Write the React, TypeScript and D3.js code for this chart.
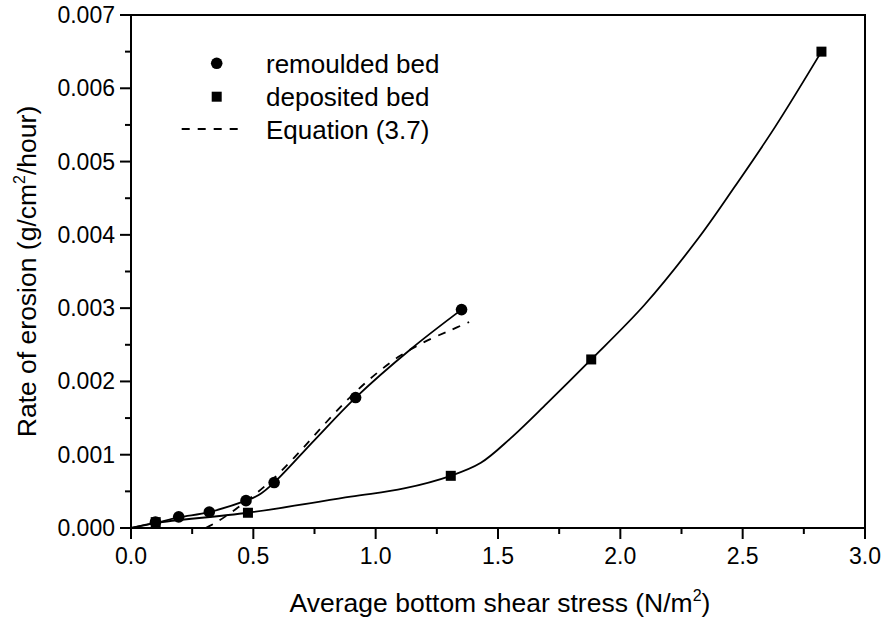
import React from "react";
import * as d3 from "d3";

// measured points
const remouldedX = [0.10, 0.195, 0.32, 0.47, 0.585, 0.918, 1.351];
const remouldedY = [0.00008, 0.000152, 0.000218, 0.000373, 0.00062, 0.00178, 0.00298];
const depositedX = [0.101, 0.478, 1.307, 1.881, 2.822];
const depositedY = [0.00008, 0.000208, 0.000712, 0.0023, 0.0065];

// fitted curves (traced)
const remouldedFitX = [0, 0.1, 0.195, 0.32, 0.47, 0.522, 0.585, 0.75, 0.918, 1.143, 1.351];
const remouldedFitY = [0, 0.00007, 0.000145, 0.000218, 0.000373, 0.00045, 0.00062, 0.0012, 0.00178, 0.00244, 0.00298];
const depositedFitX = [0, 0.101, 0.478, 0.898, 1.116, 1.307, 1.43, 1.55, 1.7, 1.881, 2.1, 2.318, 2.468, 2.632, 2.822];
const depositedFitY = [0, 0.00007, 0.000208, 0.000427, 0.00054, 0.000712, 0.00089, 0.00122, 0.0017, 0.0023, 0.00305, 0.00395, 0.00466, 0.00547, 0.0065];
const equationX = [0.305, 0.35, 0.4, 0.45, 0.5, 0.55, 0.6, 0.7, 0.8, 0.9, 1.0, 1.1, 1.2, 1.3, 1.382];
const equationY = [0, 0.00008, 0.00019, 0.00031, 0.00044, 0.00058, 0.00073, 0.00108, 0.00145, 0.0018, 0.0021, 0.00235, 0.00254, 0.00269, 0.00281];

const xTicks = [0, 0.5, 1.0, 1.5, 2.0, 2.5, 3.0];
const xMinor = [0.25, 0.75, 1.25, 1.75, 2.25, 2.75];
const yTicks = [0, 0.001, 0.002, 0.003, 0.004, 0.005, 0.006, 0.007];
const yMinor = [0.0005, 0.0015, 0.0025, 0.0035, 0.0045, 0.0055, 0.0065];

const legendLabels = ["remoulded bed", "deposited bed", "Equation (3.7)"];

const W = 884, H = 624;
const L = 131, R = 865, T = 15, B = 528;
const FONT = "'Liberation Sans', Arial, Helvetica, sans-serif";

export default function App() {
  const x = d3.scaleLinear().domain([0, 3]).range([L, R]);
  const y = d3.scaleLinear().domain([0, 0.007]).range([B, T]);
  const line = (xs: number[], ys: number[]) =>
    d3.line<number>().x((_, i) => x(xs[i])).y((_, i) => y(ys[i])).curve(d3.curveCatmullRom.alpha(0.5))(xs) || "";

  return (
    <svg width={W} height={H} style={{ position: "absolute", left: 0, top: 0, background: "#fff" }} fontFamily={FONT}>
      <rect x={0} y={0} width={W} height={H} fill="#fff" />
      {/* curves */}
      <path d={line(remouldedFitX, remouldedFitY)} fill="none" stroke="#000" strokeWidth={1.8} />
      <path d={line(depositedFitX, depositedFitY)} fill="none" stroke="#000" strokeWidth={1.8} />
      <path d={line(equationX, equationY)} fill="none" stroke="#000" strokeWidth={1.8} strokeDasharray="8,8" />
      {/* markers */}
      {remouldedX.map((v, i) => (
        <circle key={"c" + i} cx={x(v)} cy={y(remouldedY[i])} r={5.8} fill="#000" />
      ))}
      {depositedX.map((v, i) => (
        <rect key={"s" + i} x={x(v) - 5} y={y(depositedY[i]) - 5} width={10} height={10} fill="#000" />
      ))}
      {/* frame */}
      <rect x={L} y={T} width={R - L} height={B - T} fill="none" stroke="#000" strokeWidth={2} />
      {/* x ticks */}
      {xTicks.map((t) => (
        <g key={"xt" + t}>
          <line x1={x(t)} x2={x(t)} y1={B} y2={B + 11} stroke="#000" strokeWidth={2} />
          <text x={x(t)} y={564} fontSize={23} textAnchor="middle">{t.toFixed(1)}</text>
        </g>
      ))}
      {xMinor.map((t) => (
        <line key={"xm" + t} x1={x(t)} x2={x(t)} y1={B} y2={B + 6} stroke="#000" strokeWidth={2} />
      ))}
      {/* y ticks */}
      {yTicks.map((t) => (
        <g key={"yt" + t}>
          <line x1={L - 11} x2={L} y1={y(t)} y2={y(t)} stroke="#000" strokeWidth={2} />
          <text x={115} y={y(t) + 8} fontSize={23} textAnchor="end">{t.toFixed(3)}</text>
        </g>
      ))}
      {yMinor.map((t) => (
        <line key={"ym" + t} x1={L - 6} x2={L} y1={y(t)} y2={y(t)} stroke="#000" strokeWidth={2} />
      ))}
      {/* axis titles */}
      <text x={(L + R) / 2 + 2} y={612} fontSize={26.5} textAnchor="middle">
        Average bottom shear stress (N/m<tspan dy={-11} fontSize={16}>2</tspan><tspan dy={11}>)</tspan>
      </text>
      <text transform={`translate(36,${(T + B) / 2}) rotate(-90)`} fontSize={26.5} textAnchor="middle">
        Rate of erosion (g/cm<tspan dy={-11} fontSize={16}>2</tspan><tspan dy={11}>/hour)</tspan>
      </text>
      {/* legend */}
      <circle cx={216.7} cy={63.3} r={5.8} fill="#000" />
      <rect x={211.7} y={91.7} width={10} height={10} fill="#000" />
      <line x1={181.7} x2={241.7} y1={129} y2={129} stroke="#000" strokeWidth={1.8} strokeDasharray="8,8" />
      {legendLabels.map((s, i) => (
        <text key={s} x={266} y={73 + i * 33} fontSize={26}>{s}</text>
      ))}
    </svg>
  );
}
